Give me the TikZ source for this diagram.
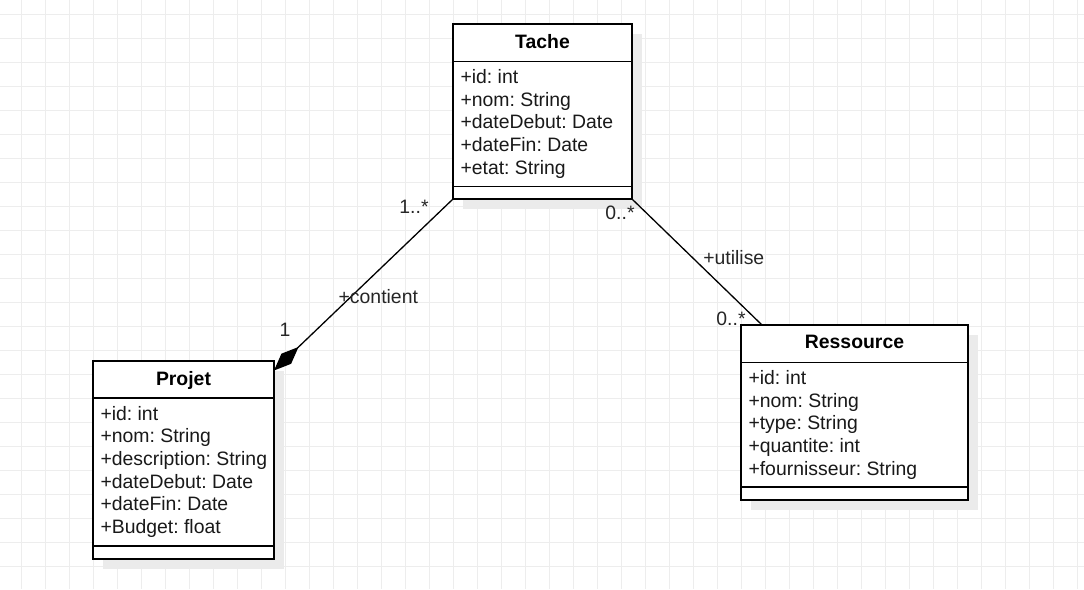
\documentclass[tikz,border=0pt]{standalone}
\usepackage{fontspec}
\setmainfont{Liberation Sans}
\usetikzlibrary{arrows.meta,shadows}
\frenchspacing

\begin{document}
\begin{tikzpicture}[x=1pt,y=-1pt,
  every node/.style={font=\fontsize{19.4pt}{22.7pt}\selectfont, inner sep=0pt, outer sep=0pt},
  gridline/.style={draw=black!7, line width=1pt},
  classbox/.style={draw=black, line width=1.5pt, fill=white, rectangle,
    drop shadow={shadow xshift=10pt, shadow yshift=-10pt, fill=black!8, opacity=1}},
  sepline/.style={draw=black, line width=1.5pt},
  classname/.style={anchor=base, font=\fontsize{19.4pt}{22.7pt}\selectfont\bfseries},
  attr/.style={anchor=base west, text=black!90},
  conn/.style={draw=black, line width=1.3pt},
  lbl/.style={anchor=base, text=black!85}
]
\useasboundingbox (0,0) rectangle (1084,589);
\fill[white] (0,0) rectangle (1084,589);

% background grid
\foreach \i in {0,...,44} \draw[gridline] (21.3+24*\i,0) -- (21.3+24*\i,589);
\foreach \j in {0,...,23} \draw[gridline] (0,14.3+24*\j) -- (1084,14.3+24*\j);

% class Tache
\node[classbox, minimum width=179pt, minimum height=175pt] (tache) at (542.5,111.5) {};
\node[classname] (tache-name) at (542.5,48.3) {Tache};
\draw[sepline] (tache.west |- 0,61.5) -- (tache.east |- 0,61.5);
\draw[sepline] (tache.west |- 0,186.5) -- (tache.east |- 0,186.5);
\foreach \t [count=\i] in {+id: int,+nom: String,+dateDebut: Date,+dateFin: Date,+etat: String}
  \node[attr] (tache-a\i) at (460.5,83.3+22.7*\i-22.7) {\t};

% class Projet
\node[classbox, minimum width=181pt, minimum height=198pt] (projet) at (183.5,460) {};
\node[classname] (projet-name) at (183.5,385) {Projet};
\draw[sepline] (projet.west |- 0,398) -- (projet.east |- 0,398);
\draw[sepline] (projet.west |- 0,546) -- (projet.east |- 0,546);
\foreach \t [count=\i] in {+id: int,+nom: String,+description: String,+dateDebut: Date,+dateFin: Date,+Budget: float}
  \node[attr] (projet-a\i) at (100.5,420+22.7*\i-22.7) {\t};

% class Ressource
\node[classbox, minimum width=227pt, minimum height=175pt] (ressource) at (854.5,412.5) {};
\node[classname] (ressource-name) at (854.5,348.7) {Ressource};
\draw[sepline] (ressource.west |- 0,362.5) -- (ressource.east |- 0,362.5);
\draw[sepline] (ressource.west |- 0,487) -- (ressource.east |- 0,487);
\foreach \t [count=\i] in {+id: int,+nom: String,+type: String,+quantite: int,+fournisseur: String}
  \node[attr] (ressource-a\i) at (748.5,384.3+22.7*\i-22.7) {\t};

% associations
\draw[conn, -{Diamond[length=34pt,width=14pt]}] (tache.south west) -- ([yshift=-9.5pt]projet.north east);
\draw[conn] (tache.south east) -- ([xshift=21pt]ressource.north west);

% association labels and multiplicities
\node[lbl] (m-tache-projet) at (414,213.3) {1..*};
\node[lbl] (m-projet) at (285,336.7) {1};
\node[lbl] (l-contient) at (378.3,303.3) {+contient};
\node[lbl] (m-tache-res) at (620,219.3) {0..*};
\node[lbl] (l-utilise) at (733.8,264) {+utilise};
\node[lbl] (m-res) at (731,325) {0..*};
\end{tikzpicture}
\end{document}
